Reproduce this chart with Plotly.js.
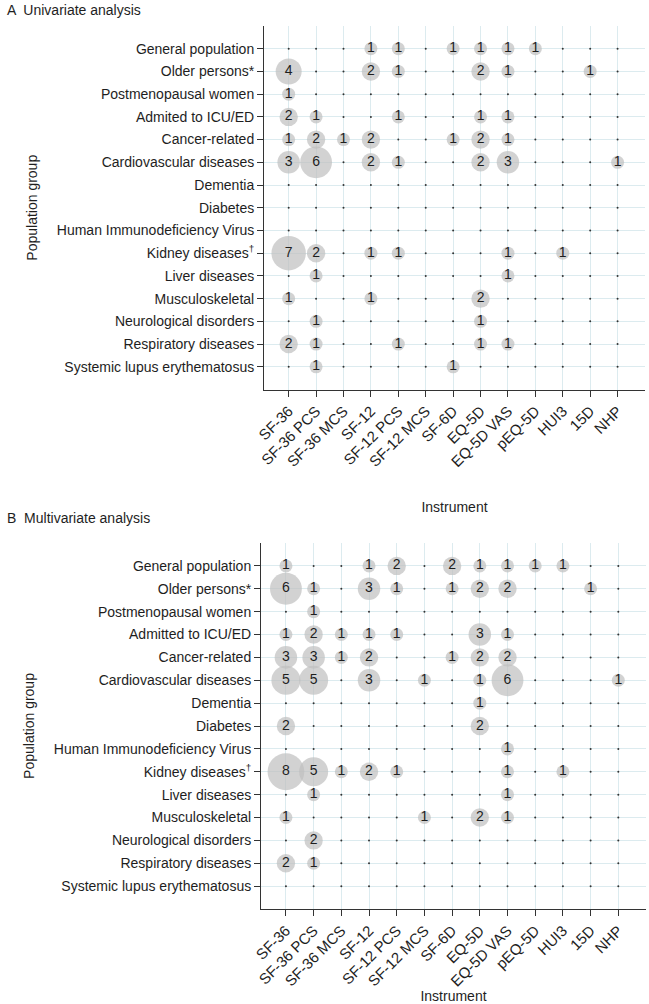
<!DOCTYPE html>
<html><head><meta charset="utf-8">
<script src="https://cdn.plot.ly/plotly-3.0.1.min.js"></script>
<style>html,body{margin:0;padding:0;background:#fff}#chart{width:649px;height:1004px}</style>
</head><body><div id="chart"></div>
<script>
const instruments = ["SF-36","SF-36 PCS","SF-36 MCS","SF-12","SF-12 PCS","SF-12 MCS","SF-6D","EQ-5D","EQ-5D VAS","pEQ-5D","HUI3","15D","NHP"];

const groupsA = ["General population","Older persons*","Postmenopausal women","Admited to ICU/ED","Cancer-related","Cardiovascular diseases","Dementia","Diabetes","Human Immunodeficiency Virus","Kidney diseases<sup>†</sup>","Liver diseases","Musculoskeletal","Neurological disorders","Respiratory diseases","Systemic lupus erythematosus"];
const groupsB = ["General population","Older persons*","Postmenopausal women","Admitted to ICU/ED","Cancer-related","Cardiovascular diseases","Dementia","Diabetes","Human Immunodeficiency Virus","Kidney diseases<sup>†</sup>","Liver diseases","Musculoskeletal","Neurological disorders","Respiratory diseases","Systemic lupus erythematosus"];

// counts per population group (rows) and instrument (columns)
const univariate = [
  [0,0,0,1,1,0,1,1,1,1,0,0,0],
  [4,0,0,2,1,0,0,2,1,0,0,1,0],
  [1,0,0,0,0,0,0,0,0,0,0,0,0],
  [2,1,0,0,1,0,0,1,1,0,0,0,0],
  [1,2,1,2,0,0,1,2,1,0,0,0,0],
  [3,6,0,2,1,0,0,2,3,0,0,0,1],
  [0,0,0,0,0,0,0,0,0,0,0,0,0],
  [0,0,0,0,0,0,0,0,0,0,0,0,0],
  [0,0,0,0,0,0,0,0,0,0,0,0,0],
  [7,2,0,1,1,0,0,0,1,0,1,0,0],
  [0,1,0,0,0,0,0,0,1,0,0,0,0],
  [1,0,0,1,0,0,0,2,0,0,0,0,0],
  [0,1,0,0,0,0,0,1,0,0,0,0,0],
  [2,1,0,0,1,0,0,1,1,0,0,0,0],
  [0,1,0,0,0,0,1,0,0,0,0,0,0]
];
const multivariate = [
  [1,0,0,1,2,0,2,1,1,1,1,0,0],
  [6,1,0,3,1,0,1,2,2,0,0,1,0],
  [0,1,0,0,0,0,0,0,0,0,0,0,0],
  [1,2,1,1,1,0,0,3,1,0,0,0,0],
  [3,3,1,2,0,0,1,2,2,0,0,0,0],
  [5,5,0,3,0,1,0,1,6,0,0,0,1],
  [0,0,0,0,0,0,0,1,0,0,0,0,0],
  [2,0,0,0,0,0,0,2,0,0,0,0,0],
  [0,0,0,0,0,0,0,0,1,0,0,0,0],
  [8,5,1,2,1,0,0,0,1,0,1,0,0],
  [0,1,0,0,0,0,0,0,1,0,0,0,0],
  [1,0,0,0,0,1,0,2,1,0,0,0,0],
  [0,2,0,0,0,0,0,0,0,0,0,0,0],
  [2,1,0,0,0,0,0,0,0,0,0,0,0],
  [0,0,0,0,0,0,0,0,0,0,0,0,0]
];

const FONT = "Liberation Sans, Arial, Helvetica, sans-serif";
const TXT = "#1e1e1e";

function panelTraces(groups, counts, xa, ya) {
  const bx=[], by=[], bs=[], bt=[], zx=[], zy=[];
  counts.forEach((row,i)=>row.forEach((v,j)=>{
    if (v>0) { bx.push(instruments[j]); by.push(groups[i]); bs.push(v); bt.push(String(v)); }
    else { zx.push(instruments[j]); zy.push(groups[i]); }
  }));
  return [
    {type:"scatter", mode:"markers", x:zx, y:zy, xaxis:xa, yaxis:ya,
     marker:{size:2, color:"#333"}, hoverinfo:"skip", showlegend:false},
    {type:"scatter", mode:"markers+text", x:bx, y:by, xaxis:xa, yaxis:ya,
     text:bt, textposition:"middle center",
     textfont:{family:FONT, size:14, color:TXT},
     marker:{size:bs, sizemode:"area", sizeref:1/84.5, color:"#bfbfbf", line:{width:0}},
     hoverinfo:"x+y+text", showlegend:false}
  ];
}

const data = [
  ...panelTraces(groupsA, univariate, "x", "y"),
  ...panelTraces(groupsB, multivariate, "x2", "y2")
];

const W=649, H=1004;
function xd(a,b){return [a/W, b/W];}
function yd(top,bot){return [1-bot/H, 1-top/H];}

function xaxisCfg(dom, standoff){
  return {domain:dom, type:"category", categoryorder:"array", categoryarray:instruments,
    range:[-0.9,13.0], showline:true, linecolor:"#333", linewidth:1, ticks:"outside",
    ticklen:6, tickcolor:"#333", tickangle:-45, showgrid:true, gridcolor:"#dcebef", gridwidth:1,
    zeroline:false, automargin:false, tickfont:{family:FONT, size:15, color:TXT},
    title:{text:"Instrument", standoff:standoff, font:{family:FONT, size:14, color:TXT}}, fixedrange:true};
}
function yaxisCfg(dom, groups){
  return {domain:dom, type:"category", categoryorder:"array", categoryarray:groups,
    range:[15,-1], showline:true, linecolor:"#333", linewidth:1, ticks:"outside",
    ticklen:6, tickcolor:"#333", showgrid:true, gridcolor:"#dcebef", gridwidth:1,
    zeroline:false, automargin:false, tickfont:{family:FONT, size:14, color:TXT},
    title:{text:"Population group", standoff:15, font:{family:FONT, size:14, color:TXT}}, fixedrange:true};
}

const layout = {
  width:W, height:H, margin:{l:0,r:0,t:0,b:0}, paper_bgcolor:"#fff", plot_bgcolor:"#fff",
  font:{family:FONT, color:TXT},
  xaxis: Object.assign(xaxisCfg(xd(264,645), 32), {anchor:"y"}),
  yaxis: Object.assign(yaxisCfg(yd(26,389.5), groupsA), {anchor:"x"}),
  xaxis2: Object.assign(xaxisCfg(xd(261,646), 20), {anchor:"y2"}),
  yaxis2: Object.assign(yaxisCfg(yd(543,909), groupsB), {anchor:"x2"}),
  annotations:[
    {text:"A  Univariate analysis", xref:"paper", yref:"paper", x:5/W, y:1-0/H, xanchor:"left", yanchor:"top",
     showarrow:false, font:{family:FONT, size:14, color:TXT}},
    {text:"B  Multivariate analysis", xref:"paper", yref:"paper", x:5/W, y:1-508/H, xanchor:"left", yanchor:"top",
     showarrow:false, font:{family:FONT, size:14, color:TXT}}
  ]
};

Plotly.newPlot("chart", data, layout, {displayModeBar:false, staticPlot:true});
</script>
</body></html>
